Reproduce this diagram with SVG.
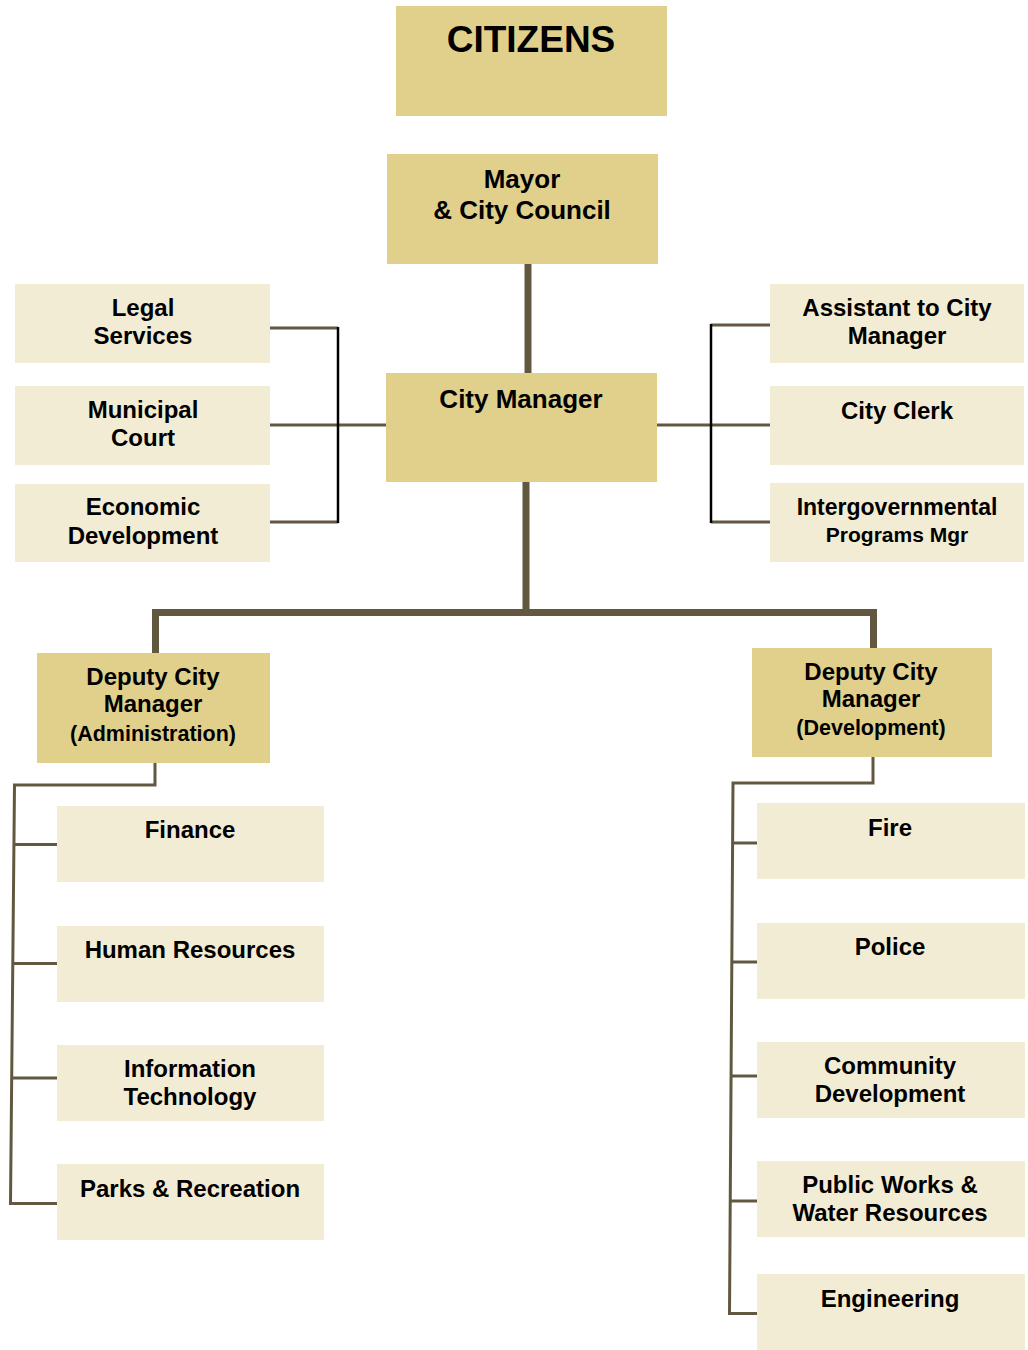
<svg xmlns="http://www.w3.org/2000/svg" width="1028" height="1350" viewBox="0 0 1028 1350">
  <style>
    .dark { fill: #e1d08b; }
    .light { fill: #f3ecd4; }
    .thick { stroke: #625840; stroke-width: 7; fill: none; }
    .thin { stroke: #625840; stroke-width: 3; fill: none; }
    .bracket { stroke: #000000; stroke-width: 2.5; fill: none; }
    text { font-family: "Liberation Sans", Arial, sans-serif; font-weight: bold; fill: #000000; text-anchor: middle; }
    .t24 { font-size: 24px; }
    .t26 { font-size: 26px; }
    .t21 { font-size: 21.5px; }
  </style>

  <!-- connectors -->
  <g id="connectors">
    <!-- council to manager, manager down to deputies -->
    <line class="thick" x1="528" y1="262" x2="528" y2="375"/>
    <line class="thick" x1="526" y1="480" x2="526" y2="612"/>
    <polyline class="thick" points="155.5,655 155.5,612.5 873.5,612.5 873.5,650"/>

    <!-- left staff bracket -->
    <line class="thin" x1="268" y1="328" x2="338" y2="328"/>
    <line class="thin" x1="268" y1="425" x2="388" y2="425"/>
    <line class="thin" x1="268" y1="522" x2="338" y2="522"/>
    <line class="bracket" x1="338" y1="327" x2="338" y2="523"/>

    <!-- right staff bracket -->
    <line class="thin" x1="655" y1="425" x2="772" y2="425"/>
    <line class="thin" x1="711" y1="325" x2="772" y2="325"/>
    <line class="thin" x1="711" y1="522" x2="772" y2="522"/>
    <line class="bracket" x1="711" y1="324" x2="711" y2="523"/>

    <!-- administration departments -->
    <polyline class="thin" points="155,761 155,785 14.5,785 10.5,1203.5 59,1203.5"/>
    <line class="thin" x1="13.5" y1="844.5" x2="59" y2="844.5"/>
    <line class="thin" x1="12.5" y1="963.5" x2="59" y2="963.5"/>
    <line class="thin" x1="11.5" y1="1078" x2="59" y2="1078"/>

    <!-- development departments -->
    <polyline class="thin" points="873,755 873,783 733,783 729.5,1313.5 759,1313.5"/>
    <line class="thin" x1="732.5" y1="843" x2="759" y2="843"/>
    <line class="thin" x1="731.5" y1="962" x2="759" y2="962"/>
    <line class="thin" x1="731" y1="1076" x2="759" y2="1076"/>
    <line class="thin" x1="730" y1="1201" x2="759" y2="1201"/>
  </g>

  <g id="citizens">
    <rect class="dark" x="396" y="6" width="271" height="110"/>
    <text x="531" y="52" style="font-size:37px">CITIZENS</text>
  </g>

  <g id="mayor-council">
    <rect class="dark" x="387" y="154" width="271" height="110"/>
    <text class="t26" x="522" y="188">Mayor</text>
    <text class="t26" x="522" y="219">&amp; City Council</text>
  </g>

  <g id="city-manager">
    <rect class="dark" x="386" y="373" width="271" height="109"/>
    <text class="t26" x="521" y="408">City Manager</text>
  </g>

  <g id="legal-services">
    <rect class="light" x="15" y="284" width="255" height="79"/>
    <text class="t24" x="143" y="316">Legal</text>
    <text class="t24" x="143" y="344">Services</text>
  </g>

  <g id="municipal-court">
    <rect class="light" x="15" y="386" width="255" height="79"/>
    <text class="t24" x="143" y="418">Municipal</text>
    <text class="t24" x="143" y="446">Court</text>
  </g>

  <g id="economic-development">
    <rect class="light" x="15" y="484" width="255" height="78"/>
    <text class="t24" x="143" y="515">Economic</text>
    <text class="t24" x="143" y="544">Development</text>
  </g>

  <g id="assistant-city-manager">
    <rect class="light" x="770" y="284" width="254" height="79"/>
    <text class="t24" x="897" y="316">Assistant to City</text>
    <text class="t24" x="897" y="344">Manager</text>
  </g>

  <g id="city-clerk">
    <rect class="light" x="770" y="386" width="254" height="79"/>
    <text class="t24" x="897" y="419">City Clerk</text>
  </g>

  <g id="intergovernmental">
    <rect class="light" x="770" y="483" width="254" height="79"/>
    <text x="897" y="515" style="font-size:23px">Intergovernmental</text>
    <text x="897" y="542" style="font-size:21px">Programs Mgr</text>
  </g>

  <g id="deputy-administration">
    <rect class="dark" x="37" y="653" width="233" height="110"/>
    <text class="t24" x="153" y="685">Deputy City</text>
    <text class="t24" x="153" y="712">Manager</text>
    <text class="t21" x="153" y="741">(Administration)</text>
  </g>

  <g id="deputy-development">
    <rect class="dark" x="752" y="648" width="240" height="109"/>
    <text class="t24" x="871" y="680">Deputy City</text>
    <text class="t24" x="871" y="707">Manager</text>
    <text class="t21" x="871" y="735">(Development)</text>
  </g>

  <g id="finance">
    <rect class="light" x="57" y="806" width="267" height="76"/>
    <text class="t24" x="190" y="838">Finance</text>
  </g>

  <g id="human-resources">
    <rect class="light" x="57" y="926" width="267" height="76"/>
    <text class="t24" x="190" y="958">Human Resources</text>
  </g>

  <g id="information-technology">
    <rect class="light" x="57" y="1045" width="267" height="76"/>
    <text class="t24" x="190" y="1077">Information</text>
    <text class="t24" x="190" y="1105">Technology</text>
  </g>

  <g id="parks-recreation">
    <rect class="light" x="57" y="1164" width="267" height="76"/>
    <text class="t24" x="190" y="1197">Parks &amp; Recreation</text>
  </g>

  <g id="fire">
    <rect class="light" x="757" y="803" width="268" height="76"/>
    <text class="t24" x="890" y="836">Fire</text>
  </g>

  <g id="police">
    <rect class="light" x="757" y="923" width="268" height="76"/>
    <text class="t24" x="890" y="955">Police</text>
  </g>

  <g id="community-development">
    <rect class="light" x="757" y="1042" width="268" height="76"/>
    <text class="t24" x="890" y="1074">Community</text>
    <text class="t24" x="890" y="1102">Development</text>
  </g>

  <g id="public-works">
    <rect class="light" x="757" y="1161" width="268" height="76"/>
    <text class="t24" x="890" y="1193">Public Works &amp;</text>
    <text class="t24" x="890" y="1221">Water Resources</text>
  </g>

  <g id="engineering">
    <rect class="light" x="757" y="1274" width="268" height="76"/>
    <text class="t24" x="890" y="1307">Engineering</text>
  </g>
</svg>
